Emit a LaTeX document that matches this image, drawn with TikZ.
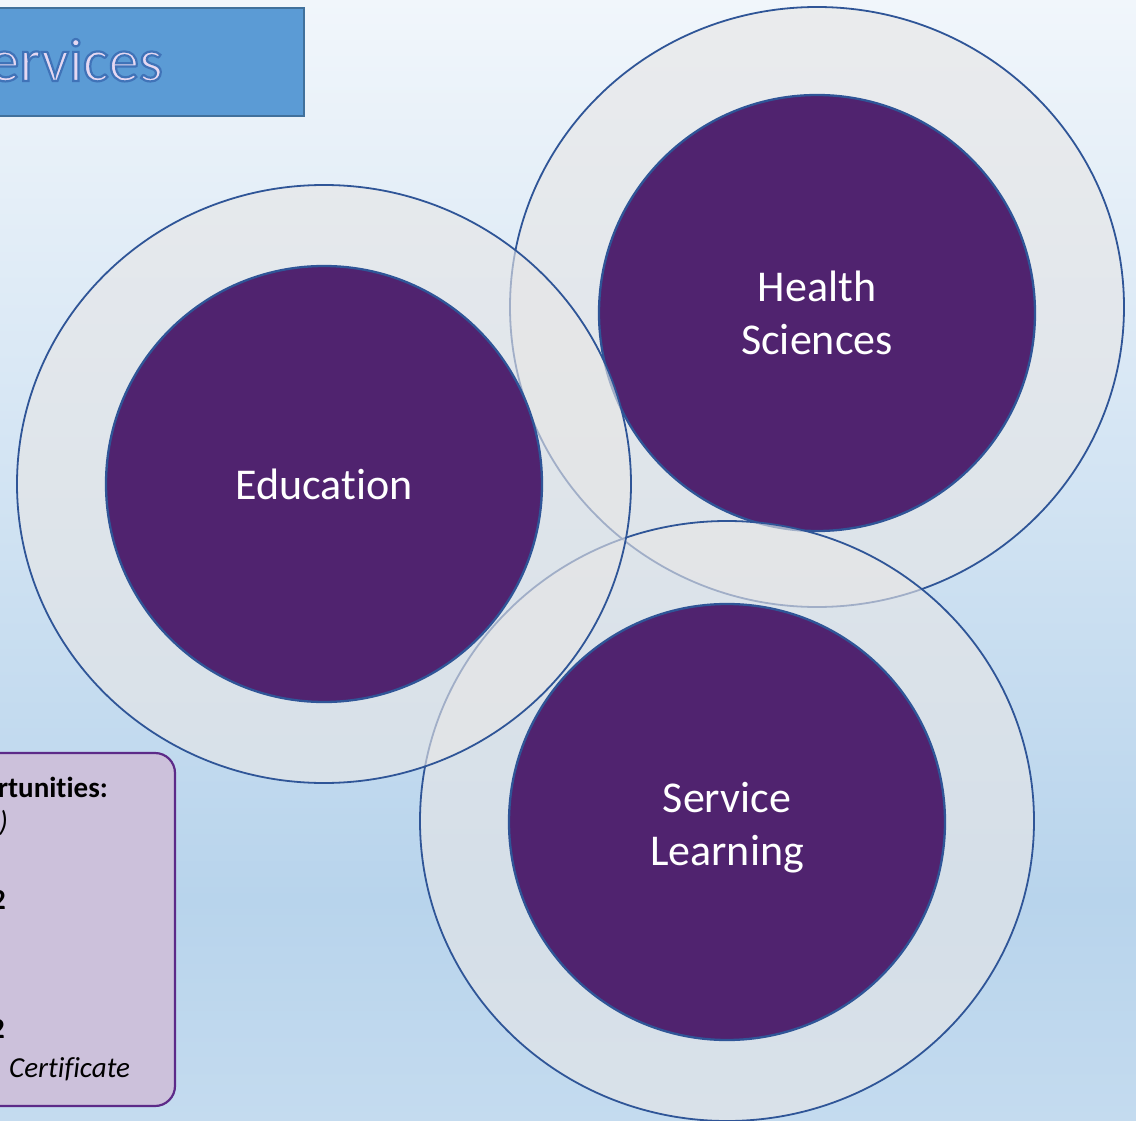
\documentclass[tikz,border=0pt]{standalone}
\usepackage{fontspec}
\setmainfont{Carlito}[RawFeature={-liga;-clig;-dlig;-calt;-rlig}]
\definecolor{bgtop}{HTML}{F1F6FB}
\definecolor{bgmid}{HTML}{B8D4EC}
\definecolor{bgbot}{HTML}{C4DBEF}
\definecolor{ringline}{HTML}{2F5597}
\definecolor{ringfill}{HTML}{E7E6E6}
\definecolor{corepurple}{HTML}{50236F}
\definecolor{titlefill}{HTML}{5B9BD5}
\definecolor{titleline}{HTML}{41719C}
\definecolor{titletext}{HTML}{E6D8F2}
\definecolor{notefill}{HTML}{CCC1DB}
\definecolor{noteline}{HTML}{5C2A88}
\newcommand\outlinedtext[1]{\special{pdf:code q 2 Tr 2.2 w 0.25 0.45 0.72 RG}#1\special{pdf:code Q}}
\newcommand\nl{\kern0pt}
\begin{document}
\begin{tikzpicture}[x=1pt,y=-1pt,
  ring/.style={draw=ringline, line width=1.8pt, fill=ringfill, fill opacity=0.62},
  core/.style={circle, draw=ringline, line width=2.3pt, fill=corepurple, minimum size=436pt, inner sep=0pt,
    text=white, align=center, font=\fontsize{44}{53}\selectfont},
  notetext/.style={inner sep=0pt, font=\fontsize{29}{35}\selectfont, text=black},
  ]
\useasboundingbox (0,0) rectangle (1136,1121);
\clip (0,0) rectangle (1136,1121);
% background
\shade[top color=bgtop, bottom color=bgmid] (0,0) rectangle (1136,900);
\shade[top color=bgmid, bottom color=bgbot] (0,899) rectangle (1136,1121);
% title box
\node[draw=titleline, fill=titlefill, line width=1.8pt, minimum width=320pt, minimum height=108pt,
  anchor=north east, inner sep=0pt] (titlebox) at (305,7) {};
\node[anchor=base east, inner sep=0pt, text=titletext, font=\fontsize{61}{70}\selectfont] (title) at (163,81) {\outlinedtext{ervices}};
% Health Sciences
\path[ring] (817,307) ellipse [x radius=307, y radius=300];
\node[core] (health) at (817,313) {Health\\Sciences};
% Service Learning
\path[ring] (727,821) ellipse [x radius=307, y radius=300];
\node[core] (service) at (727,822) {};
\node[inner sep=0pt, text=white, align=center, font=\fontsize{44}{53}\selectfont] (servicetext) at (727,828) {Service\\Learning};
% Education
\path[ring] (324,484) ellipse [x radius=307, y radius=299];
\node[core] (education) at (324,484) {Educat\nl ion};
% note box
\draw[fill=notefill, draw=noteline, line width=2.2pt, rounded corners=20pt] (-40,753) rectangle (175,1106);
\node[notetext, anchor=base east, font=\fontsize{29}{35}\selectfont\bfseries] (opp) at (108,797) {rtunit\nl ies:};
\node[notetext, anchor=base east, font=\fontsize{29}{35}\selectfont\itshape] (paren) at (8,831) {)};
\node[notetext, anchor=base east, font=\fontsize{29}{35}\selectfont\bfseries] (two1) at (6,909) {2};
\node[notetext, anchor=base east, font=\fontsize{29}{35}\selectfont\bfseries] (two2) at (5,1038) {2};
\node[notetext, anchor=base west, font=\fontsize{29}{35}\selectfont\itshape] (cert) at (9,1077) {Cert\nl if\nl icate};
\end{tikzpicture}
\end{document}
